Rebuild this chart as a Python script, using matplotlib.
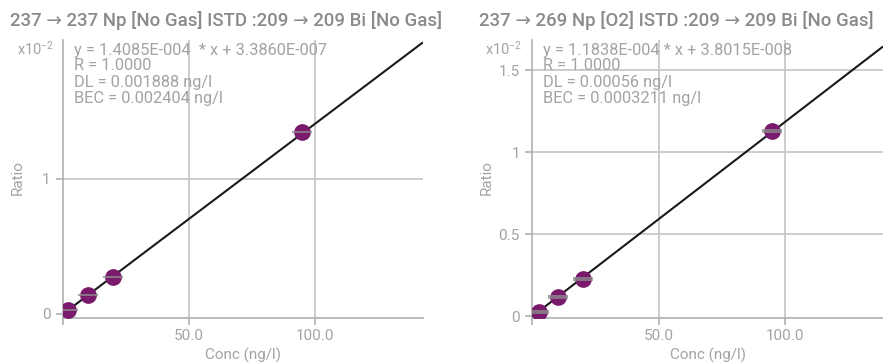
import matplotlib
matplotlib.use("Agg")
import matplotlib.pyplot as plt
from matplotlib.path import Path
from matplotlib.ticker import FuncFormatter, FixedLocator
import numpy as np

plt.rcParams['font.family'] = ['Roboto', 'DejaVu Sans']
plt.rcParams['mathtext.fontset'] = 'custom'
plt.rcParams['mathtext.rm'] = 'Roboto'
plt.rcParams['mathtext.it'] = 'Roboto'

# ---- data ----
titles = ["237 \u2192 237 Np [No Gas] ISTD :209 \u2192 209 Bi [No Gas]",
          "237 \u2192 269 Np [O2] ISTD :209 \u2192 209 Bi [No Gas]"]
conc_left = [2.0, 10.0, 20.0, 95.0]
ratio_left = [0.00027, 0.00138, 0.00275, 0.01350]
conc_right = [2.5, 10.0, 20.0, 95.0]
ratio_right = [0.00027, 0.00118, 0.00225, 0.01126]
slope = [1.4085e-4, 1.1838e-4]
intercept = [3.3860e-7, 3.8015e-8]
info_left = ["y = 1.4085E-004  * x + 3.3860E-007", "R = 1.0000",
             "DL = 0.001888 ng/l", "BEC = 0.002404 ng/l"]
info_right = ["y = 1.1838E-004 * x + 3.8015E-008", "R = 1.0000",
              "DL = 0.00056 ng/l", "BEC = 0.0003211 ng/l"]
xticks = [0, 50, 100]
xticklabels = ["", "50.0", "100.0"]
yticks_left = [0, 0.01]
yticks_right = [0, 0.005, 0.01, 0.015]
xlims = [(0, 142.9), (0, 138.8)]
ylims = [(-0.0003, 0.0203), (-0.0001, 0.01683)]

fig = plt.figure(figsize=(8.83, 3.64), dpi=100)
W, H = 883, 364

def px_axes(x0, x1, ytop, ybot):
    return fig.add_axes([x0 / W, 1 - ybot / H, (x1 - x0) / W, (ybot - ytop) / H])

axL = px_axes(63, 423, 40, 318)
axR = px_axes(532.3, 883, 40, 318)
ax_px = [(63, 423), (532.3, 883)]

TXT = '#a3a3a3'
GRID = '#c4c4c4'
PURPLE = '#7a1a6c'

single = Path([(-1, 0), (1, 0)], [Path.MOVETO, Path.LINETO])
double = Path([(-1, 0.14), (1, 0.14), (-1, -0.14), (1, -0.14)],
              [Path.MOVETO, Path.LINETO, Path.MOVETO, Path.LINETO])

panels = [
    (axL, conc_left, ratio_left, yticks_left, info_left, single),
    (axR, conc_right, ratio_right, yticks_right, info_right, double),
]

for i, (ax, cx, ry, yt, info, mk) in enumerate(panels):
    ax.set_xlim(*xlims[i])
    ax.set_ylim(*ylims[i])
    for s in ['top', 'right']:
        ax.spines[s].set_visible(False)
    for s in ['left', 'bottom']:
        ax.spines[s].set_color('#b0b0b0')
        ax.spines[s].set_linewidth(1.2)
    ax.xaxis.set_major_locator(FixedLocator(xticks))
    ax.set_xticklabels(xticklabels)
    ax.yaxis.set_major_locator(FixedLocator(yt))
    ax.yaxis.set_major_formatter(FuncFormatter(lambda v, p: f"{v*100:g}"))
    ax.tick_params(axis='both', colors='#b0b0b0', labelcolor=TXT, length=5,
                   width=1.2, labelsize=11, direction='out')
    ax.tick_params(axis='y', pad=4)
    ax.tick_params(axis='x', pad=3)
    ax.grid(True, color=GRID, linewidth=1.2)
    ax.set_axisbelow(True)
    ax.get_ygridlines()[0].set_visible(False)
    ax.get_xgridlines()[0].set_visible(False)

    xs = np.array(xlims[i])
    ax.plot(xs, slope[i] * xs + intercept[i], color='#1a1a1a', lw=1.5, zorder=3,
            solid_capstyle='butt')
    ax.scatter(cx, ry, s=145, color=PURPLE, zorder=4, linewidths=0)
    ax.plot(cx, ry, linestyle='none', marker=mk, markersize=15,
            markeredgecolor='#8c8c8c', markeredgewidth=1.1, zorder=5)

    x0, x1 = ax_px[i]
    for k, line in enumerate(info):
        fig.text((x0 + 11) / W, 1 - (50 + 16 * k) / H, line, color=TXT,
                 fontsize=11.8, ha='left', va='center', zorder=6)

    fig.text((x0 + x1) / 2 / W, 1 - 355 / H, "Conc (ng/l)", color=TXT,
             fontsize=11, ha='center', va='center')

# y labels and multipliers
fig.text(18 / W, 1 - 178 / H, "Ratio", rotation=90, color=TXT, fontsize=11,
         ha='center', va='center')
fig.text(487 / W, 1 - 178 / H, "Ratio", rotation=90, color=TXT, fontsize=11,
         ha='center', va='center')
fig.text(54 / W, 1 - 49 / H, r"x10$^{\mathrm{-2}}$", color=TXT, fontsize=10.5,
         ha='right', va='center')
fig.text(522 / W, 1 - 49 / H, r"x10$^{\mathrm{-2}}$", color=TXT, fontsize=10.5,
         ha='right', va='center')

fig.text(226 / W, 1 - 20 / H, titles[0], color='#8a8a8a', fontsize=13.4,
         fontweight='medium', ha='center', va='center')
fig.text(676 / W, 1 - 20 / H, titles[1], color='#8a8a8a', fontsize=13.4,
         fontweight='medium', ha='center', va='center')

fig.savefig("out.png", dpi=100)
